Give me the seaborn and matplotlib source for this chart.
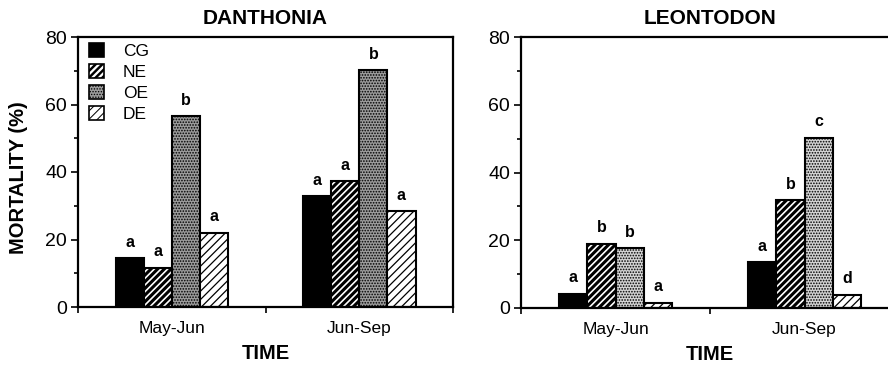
import matplotlib
matplotlib.use("Agg")
import matplotlib.pyplot as plt
from matplotlib.ticker import MultipleLocator
from matplotlib.patches import Patch
import seaborn as sns
import pandas as pd

periods = ["May-Jun", "Jun-Sep"]
treatments = ["CG", "NE", "OE", "DE"]

danthonia_may = [14.5, 11.6, 56.6, 22.0]
danthonia_sep = [32.9, 37.3, 70.1, 28.4]
danthonia_letters_may = ["a", "a", "b", "a"]
danthonia_letters_sep = ["a", "a", "b", "a"]

leontodon_may = [4.2, 19.0, 17.6, 1.6]
leontodon_sep = [13.5, 31.8, 50.3, 3.9]
leontodon_letters_may = ["a", "b", "b", "a"]
leontodon_letters_sep = ["a", "b", "c", "d"]

titles = ["DANTHONIA", "LEONTODON"]
y_label = "MORTALITY (%)"
x_label = "TIME"


def make_df(may, sep):
    rows = []
    for t, v in zip(treatments, may):
        rows.append({"period": periods[0], "treatment": t, "value": v})
    for t, v in zip(treatments, sep):
        rows.append({"period": periods[1], "treatment": t, "value": v})
    return pd.DataFrame(rows)


sns.set_theme(style="ticks")
plt.rcParams["font.family"] = ["Liberation Sans", "DejaVu Sans"]
plt.rcParams["hatch.linewidth"] = 1.0
for k in ["text.color", "axes.labelcolor", "xtick.color", "ytick.color",
          "axes.edgecolor"]:
    plt.rcParams[k] = "black"

fig = plt.figure(figsize=(8.88, 3.65), dpi=100)
W, H = 888, 365
ax1 = fig.add_axes([78 / W, (H - 307) / H, (453 - 78) / W, 270 / H])
ax2 = fig.add_axes([521 / W, (H - 308) / H, 378 / W, 271 / H])

styles = {
    "CG": dict(face="black", hatch=None, hlw=1.0),
    "NE": dict(face="white", hatch="/////", hlw=2.2),
    "OE": dict(face=None, hatch="......", hlw=0.8),
    "DE": dict(face="white", hatch="////", hlw=0.9),
}
oe_face = ["#9c9c9c", "#d4d4d4"]

panels = [
    (ax1, danthonia_may, danthonia_sep, danthonia_letters_may, danthonia_letters_sep),
    (ax2, leontodon_may, leontodon_sep, leontodon_letters_may, leontodon_letters_sep),
]


def set_hlw(patch, lw):
    try:
        patch.set_hatch_linewidth(lw)
    except AttributeError:
        pass


for i, (ax, may, sep, lm, ls) in enumerate(panels):
    df = make_df(may, sep)
    sns.barplot(data=df, x="period", y="value", hue="treatment",
                order=periods, hue_order=treatments, width=0.6,
                ax=ax, legend=False, errorbar=None, saturation=1)
    for t, cont in zip(treatments, ax.containers):
        st = styles[t]
        for bar in cont:
            face = st["face"] if st["face"] is not None else oe_face[i]
            bar.set_facecolor(face)
            bar.set_edgecolor("black")
            bar.set_linewidth(1.5)
            if st["hatch"]:
                bar.set_hatch(st["hatch"])
                set_hlw(bar, st["hlw"])
    letters = [lm, ls]
    for j, cont in enumerate(ax.containers):
        for k, bar in enumerate(cont):
            ax.text(bar.get_x() + bar.get_width() / 2, bar.get_height() + 2.5,
                    letters[k][j], ha="center", va="bottom",
                    fontsize=11.5, fontweight="bold", color="black")
    ax.set_xlim(-0.5, 1.5)
    ax.set_ylim(0, 80)
    ax.yaxis.set_major_locator(MultipleLocator(20))
    ax.yaxis.set_minor_locator(MultipleLocator(10))
    ax.set_xticks([0, 1])
    ax.set_xticklabels(periods, fontsize=12.5)
    ax.set_xticks([-0.5, 0.5, 1.5], minor=True)
    ax.tick_params(axis="x", which="major", length=0, pad=10)
    ax.tick_params(axis="x", which="minor", length=4, width=1.2, direction="out")
    ax.tick_params(axis="y", which="major", length=5, width=1.2, labelsize=14, pad=3)
    ax.tick_params(axis="y", which="minor", length=3, width=1.2)
    for s in ["left", "bottom", "top", "right"]:
        ax.spines[s].set_visible(True)
        ax.spines[s].set_linewidth(1.6)
        ax.spines[s].set_color("black")
    ax.set_xlabel(x_label, fontsize=14.5, fontweight="bold", labelpad=6)
    ax.set_ylabel("")
    ax.set_title(titles[i], fontsize=15, fontweight="bold", pad=9)
    ax.set_facecolor("white")

ax1.set_ylabel(y_label, fontsize=14.5, fontweight="bold")
ax1.yaxis.set_label_coords(-0.133, 0.48)

handles = []
for t in treatments:
    st = styles[t]
    p = Patch(facecolor=st["face"] if st["face"] else oe_face[0],
              edgecolor="black", hatch=st["hatch"], label=t, linewidth=1.2)
    handles.append(p)
leg = ax1.legend(handles=handles, loc="upper left", frameon=False,
                 fontsize=12.5, handlelength=0.85, handleheight=0.85,
                 handletextpad=1.1, labelspacing=0.3,
                 bbox_to_anchor=((89 - 78) / 375, 1 - (43 - 37) / 270),
                 borderaxespad=0, borderpad=0)
for p, t in zip(leg.get_patches(), treatments):
    set_hlw(p, styles[t]["hlw"] * 0.8)

fig.savefig("out.png", dpi=100, facecolor="white")
